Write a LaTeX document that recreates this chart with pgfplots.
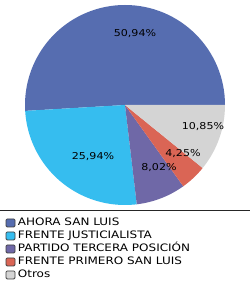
\documentclass[border=0pt]{standalone}
\usepackage{pgfplots}
\pgfplotsset{compat=1.18}
\usepackage{pgfplotstable}
\usepackage{fontspec}
\setmainfont{DejaVu Sans}[FakeStretch=1.17]
\definecolor{c0}{HTML}{566DB0}
\definecolor{c1}{HTML}{36BDEF}
\definecolor{c2}{HTML}{6F68A7}
\definecolor{c3}{HTML}{DA6555}
\definecolor{c4}{HTML}{D4D4D4}
\pgfplotstableread[col sep=comma]{
party,value,lx,ly
AHORA SAN LUIS,50.94,0.10,0.71
FRENTE JUSTICIALISTA,25.94,-0.32,-0.52
PARTIDO TERCERA POSICIÓN,8.02,0.34,-0.63
FRENTE PRIMERO SAN LUIS,4.25,0.58,-0.49
Otros,10.85,0.78,-0.22
}\piedata
\begin{document}
\begin{tikzpicture}
\useasboundingbox (0,0) rectangle (250bp,285bp);
\fill[white] (0,0) rectangle (250bp,285bp);
\def\cum{0}
\pgfplotsforeachungrouped \i in {0,...,4}{%
  \pgfplotstablegetelem{\i}{value}\of\piedata
  \let\v\pgfplotsretval
  \pgfmathsetmacro\s{\cum*3.6}
  \pgfmathsetmacro\e{(\cum+\v)*3.6}
  \expandafter\xdef\csname ps\i\endcsname{\s}
  \expandafter\xdef\csname pe\i\endcsname{\e}
  \pgfmathsetmacro\cum{\cum+\v}
  \xdef\cum{\cum}
}
\begin{axis}[
  hide axis, scale only axis, width=200bp, height=200bp,
  xmin=-1, xmax=1, ymin=-1, ymax=1,
  at={(125bp,180bp)}, anchor=origin, clip=false,
  legend style={at={(axis description cs:-0.097,-0.066)}, anchor=north west,
    draw=none, fill=none, inner sep=0pt, outer sep=0pt,
    row sep=3.5bp, column sep=2.5bp,
    font=\fontsize{10.3}{12}\selectfont,
    nodes={inner sep=0pt, text height=7.5bp, text depth=2bp}},
  legend cell align=left,
]
\pgfplotsinvokeforeach{0,...,4}{
  \fill[c#1] (axis cs:0,0) -- (axis cs:{cos(\csname ps#1\endcsname)},{sin(\csname ps#1\endcsname)})
    arc[start angle=\csname ps#1\endcsname, end angle=\csname pe#1\endcsname, radius=100bp] -- cycle;
}
\addplot[forget plot, draw=none, mark=none, point meta=explicit,
  nodes near coords={\pgfmathprintnumber[fixed, fixed zerofill, precision=2, use comma, assume math mode=true]{\pgfplotspointmeta}\%},
  every node near coord/.append style={anchor=center, text=black, inner sep=0pt,
    font=\fontsize{9.5}{11}\selectfont}]
  table[x=lx, y=ly, meta=value]{\piedata};
\addlegendimage{legend image code/.code={\draw[fill=c0, draw=black!75, rounded corners=1.2bp, line width=0.8bp] (0bp,-4bp) rectangle (9bp,4bp);}}
\addlegendentry{AHORA SAN LUIS}
\addlegendimage{legend image code/.code={\draw[fill=c1, draw=black!75, rounded corners=1.2bp, line width=0.8bp] (0bp,-4bp) rectangle (9bp,4bp);}}
\addlegendentry{FRENTE JUSTICIALISTA}
\addlegendimage{legend image code/.code={\draw[fill=c2, draw=black!75, rounded corners=1.2bp, line width=0.8bp] (0bp,-4bp) rectangle (9bp,4bp);}}
\addlegendentry{PARTIDO TERCERA POSICIÓN}
\addlegendimage{legend image code/.code={\draw[fill=c3, draw=black!75, rounded corners=1.2bp, line width=0.8bp] (0bp,-4bp) rectangle (9bp,4bp);}}
\addlegendentry{FRENTE PRIMERO SAN LUIS}
\addlegendimage{legend image code/.code={\draw[fill=c4, draw=black!75, rounded corners=1.2bp, line width=0.8bp] (0bp,-4bp) rectangle (9bp,4bp);}}
\addlegendentry{Otros}
\end{axis}
\draw[black!85, line width=1.2bp] (0,74.3bp) -- (250bp,74.3bp);
\end{tikzpicture}
\end{document}
